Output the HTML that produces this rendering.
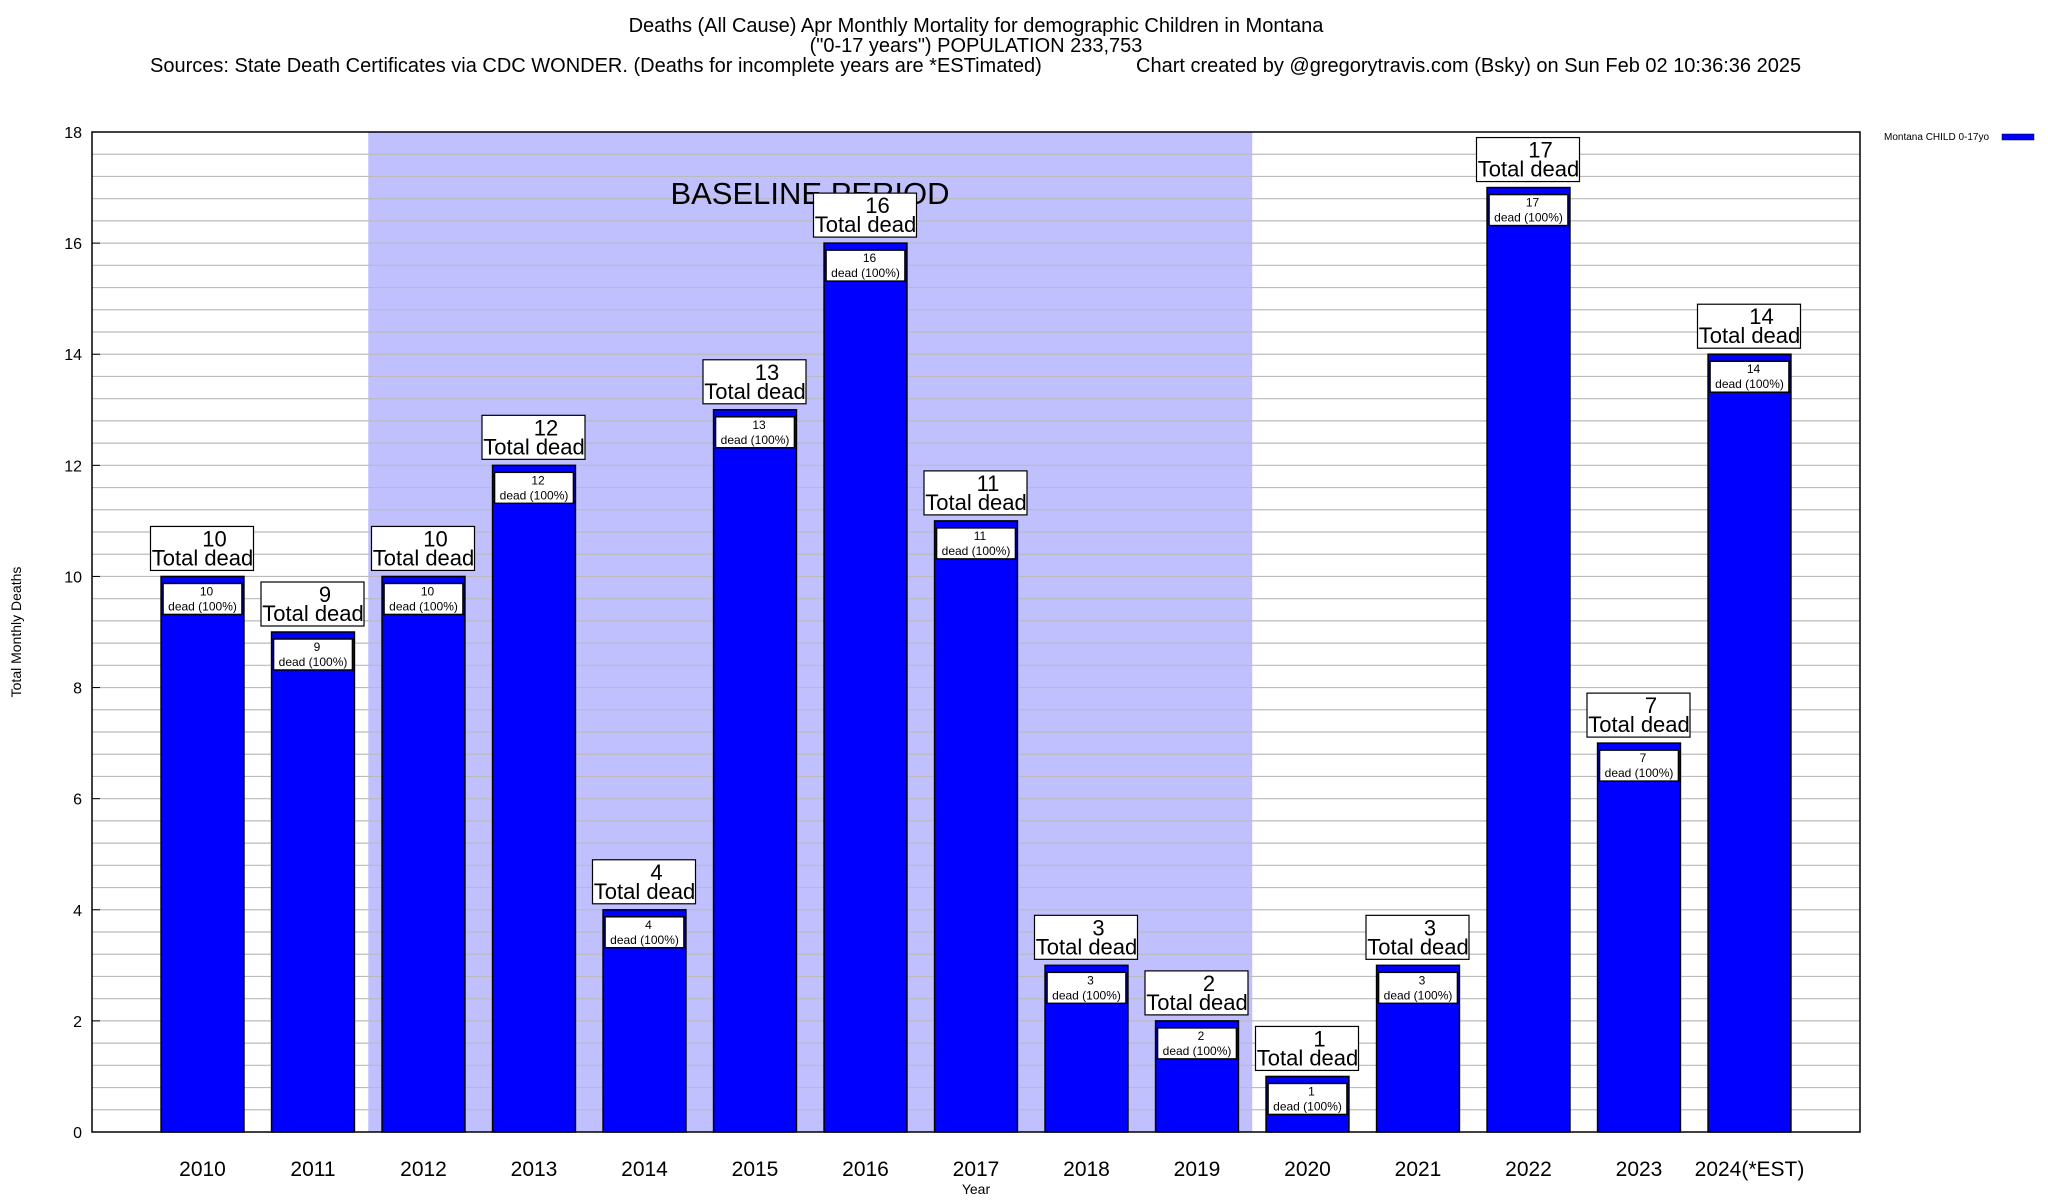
<!DOCTYPE html>
<html><head><meta charset="utf-8"><style>
html,body{margin:0;padding:0;background:#fff}
svg{display:block;font-family:"Liberation Sans",sans-serif}
</style></head><body>
<svg id="chart" width="2048" height="1200" viewBox="0 0 2048 1200" xmlns="http://www.w3.org/2000/svg">
<text x="976" y="32" font-size="20" text-anchor="middle">Deaths (All Cause) Apr Monthly Mortality for demographic Children in Montana</text>
<text x="976" y="52" font-size="20" text-anchor="middle">("0-17 years") POPULATION 233,753</text>
<text x="150" y="72" font-size="20">Sources: State Death Certificates via CDC WONDER. (Deaths for incomplete years are *ESTimated)</text>
<text x="1136" y="72" font-size="20">Chart created by @gregorytravis.com (Bsky) on Sun Feb 02 10:36:36 2025</text>
<g id="plot"></g>
<text x="0" y="0" font-size="14" text-anchor="middle" transform="translate(21,632) rotate(-90)">Total Monthly Deaths</text>
<text x="976" y="1194" font-size="14" text-anchor="middle">Year</text>
<text x="1884" y="140" font-size="10">Montana CHILD 0-17yo</text>
<rect x="2002" y="134" width="32" height="6" fill="#0000ff" stroke="#000" stroke-width="0.5"/>
</svg>
<script>
const categories = ["2010","2011","2012","2013","2014","2015","2016","2017","2018","2019","2020","2021","2022","2023","2024(*EST)"];
const deaths = [10,9,10,12,4,13,16,11,3,2,1,3,17,7,14];
const yTicks = [0,2,4,6,8,10,12,14,16,18];
const baselineRange = [2.5,10.5];

const NS="http://www.w3.org/2000/svg";
const L=92,R=1860,T=132,B=1132,yMax=18,xMax=16;
const sx=v=>L+(v)*(R-L)/xMax;
const sy=v=>B-v*(B-T)/yMax;
const g=document.getElementById('plot');
function mk(tag,attrs,txt){const e=document.createElementNS(NS,tag);for(const k in attrs)e.setAttribute(k,attrs[k]);if(txt!==undefined)e.textContent=txt;g.appendChild(e);return e;}

let e=mk('rect',{x:L,y:T,width:R-L,height:B-T,fill:'#fff'});


e=mk('rect',{x:sx(baselineRange[0]),y:T,width:sx(baselineRange[1])-sx(baselineRange[0]),height:B-T,fill:'#c0c0ff'});


for(let v=0.4;v<yMax-0.01;v+=0.4){
  e=mk('line',{x1:L,x2:R,y1:sy(v),y2:sy(v),stroke:'#bbb','stroke-width':1.2});
  
  
}
yTicks.forEach(t=>{
  e=mk('text',{x:82,y:sy(t)+6,'font-size':16,'text-anchor':'end'},String(t));
  
  
  e=mk('line',{x1:L,x2:L+8,y1:sy(t),y2:sy(t),stroke:'#000'});
  
  
});
e=mk('text',{x:810,y:204,'font-size':31,'text-anchor':'middle'},'BASELINE PERIOD');


const bw=0.75;
categories.forEach((c,i)=>{
  const v=deaths[i],cx=sx(i+1),x0=sx(i+1-bw/2),x1=sx(i+1+bw/2),yt=sy(v);
  e=mk('rect',{x:x0,y:yt,width:x1-x0,height:B-yt,fill:'#0000ff',stroke:'#000','stroke-width':1.5});
  
  
  e=mk('rect',{x:x0+2,y:yt+7,width:x1-x0-4,height:31,fill:'#fff',stroke:'#000','stroke-width':1.5});
  
  
  e=mk('text',{x:cx+4,y:yt+19,'font-size':12,'text-anchor':'middle'},String(v));
  
  
  e=mk('text',{x:cx,y:yt+34,'font-size':12,'text-anchor':'middle'},'dead (100%)');
  
  
  e=mk('rect',{x:cx-52,y:yt-50,width:103,height:44,fill:'#fff',stroke:'#000','stroke-width':1.2});
  
  
  e=mk('text',{x:cx+12,y:yt-30,'font-size':22,'text-anchor':'middle'},String(v));
  
  
  e=mk('text',{x:cx,y:yt-11,'font-size':22,'text-anchor':'middle'},'Total dead');
  
  
  e=mk('text',{x:cx,y:1176,'font-size':21,'text-anchor':'middle'},c);
  
  
});
e=mk('rect',{x:L,y:T,width:R-L,height:B-T,fill:'none',stroke:'#000','stroke-width':1.5});


</script>
</body></html>
